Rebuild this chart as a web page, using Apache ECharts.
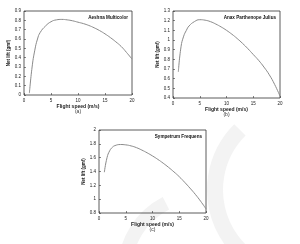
<!DOCTYPE html>
<html>
<head>
<meta charset="utf-8">
<script src="https://cdn.jsdelivr.net/npm/echarts@6/dist/echarts.min.js"></script>
<style>
  html, body { margin: 0; padding: 0; background: #fff; }
  #chart { width: 300px; height: 244px; }
</style>
</head>
<body>
<div id="chart"></div>
<script>
// flight speed (m/s)
const speed = [1, 1.5, 2, 2.5, 3, 4, 5, 6, 7, 8, 9, 10, 11, 12, 13, 14, 15, 16, 17, 18, 19, 20];
// net lift per species
const aeshna = [0.02, 0.3, 0.48, 0.6, 0.67, 0.74, 0.785, 0.805, 0.81, 0.805, 0.795, 0.78, 0.765, 0.745, 0.72, 0.69, 0.655, 0.615, 0.57, 0.52, 0.455, 0.385];
const anax = [0.67, 0.93, 1.04, 1.1, 1.145, 1.19, 1.21, 1.205, 1.19, 1.165, 1.135, 1.1, 1.06, 1.015, 0.965, 0.91, 0.85, 0.79, 0.72, 0.64, 0.54, 0.42];
const sympetrum = [1.39, 1.6, 1.7, 1.75, 1.775, 1.79, 1.785, 1.77, 1.745, 1.71, 1.67, 1.625, 1.575, 1.52, 1.46, 1.395, 1.325, 1.245, 1.16, 1.07, 0.97, 0.86];
const speciesNames = ['Aeshna Multicolor', 'Anax Parthenope Julius', 'Sympetrum Frequens'];
const panelTags = ['(a)', '(b)', '(c)'];

const font = 'Liberation Sans';
const grids = [
  {left: 24, top: 11, width: 108, height: 84},
  {left: 173, top: 11, width: 107, height: 87},
  {left: 99, top: 130, width: 107, height: 83}
];
const yRanges = [[0, 0.9, 0.1], [0.4, 1.3, 0.1], [0.8, 2, 0.2]];
const seriesData = [aeshna, anax, sympetrum];

const chart = echarts.init(document.getElementById('chart'));

const option = {
  backgroundColor: '#fff',
  animation: false,
  grid: grids.map(g => Object.assign({show: true, borderColor: '#333', borderWidth: 0.8}, g)),
  xAxis: grids.map((g, i) => ({
    type: 'value', gridIndex: i, min: 0, max: 20, interval: 5,
    name: 'Flight speed (m/s)', nameLocation: 'middle', nameGap: 9,
    nameTextStyle: {fontSize: 5, fontFamily: font, color: '#222', fontWeight: 'bold'},
    axisLine: {show: false},
    axisTick: {inside: true, length: 2, lineStyle: {color: '#333', width: 0.6}},
    axisLabel: {fontSize: 4.5, fontFamily: font, color: '#222', margin: 3},
    splitLine: {show: false}
  })),
  yAxis: grids.map((g, i) => ({
    type: 'value', gridIndex: i, min: yRanges[i][0], max: yRanges[i][1], interval: yRanges[i][2],
    name: 'Net lift (gmf)', nameLocation: 'middle', nameGap: 11,
    nameTextStyle: {fontSize: 4.5, fontFamily: font, color: '#222', fontWeight: 'bold'},
    axisLine: {show: false},
    axisTick: {inside: true, length: 2, lineStyle: {color: '#333', width: 0.6}},
    axisLabel: {fontSize: 4.5, fontFamily: font, color: '#222', margin: 3,
      formatter: v => String(Math.round(v * 10) / 10)},
    splitLine: {show: false}
  })),
  series: seriesData.map((d, i) => ({
    type: 'line', xAxisIndex: i, yAxisIndex: i,
    data: speed.map((s, k) => [s, d[k]]),
    smooth: true, showSymbol: false,
    lineStyle: {color: '#8a8a8a', width: 1}
  })),
  graphic: [
    // faint watermark swooshes
    {type: 'arc', z: -1, shape: {cx: 300, cy: 190, r: 85, startAngle: Math.PI * 0.55, endAngle: Math.PI * 1.25}, style: {stroke: '#f3f3f3', lineWidth: 16, fill: null}},
    {type: 'arc', z: -1, shape: {cx: 200, cy: 270, r: 75, startAngle: Math.PI * 1.0, endAngle: Math.PI * 1.35}, style: {stroke: '#f3f3f3', lineWidth: 14, fill: null}}
  ].concat(grids.map((g, i) => ({
    type: 'text', x: g.left + g.width - 4, y: g.top + 4,
    style: {text: speciesNames[i], align: 'right', fontSize: 4.6, fontWeight: 'bold', fontFamily: font, fill: '#111'}
  }))).concat(grids.map((g, i) => ({
    type: 'text', x: g.left + g.width / 2, y: g.top + g.height + 14,
    style: {text: panelTags[i], align: 'center', fontSize: 5, fontFamily: font, fill: '#333'}
  })))
};

chart.setOption(option);
</script>
</body>
</html>
